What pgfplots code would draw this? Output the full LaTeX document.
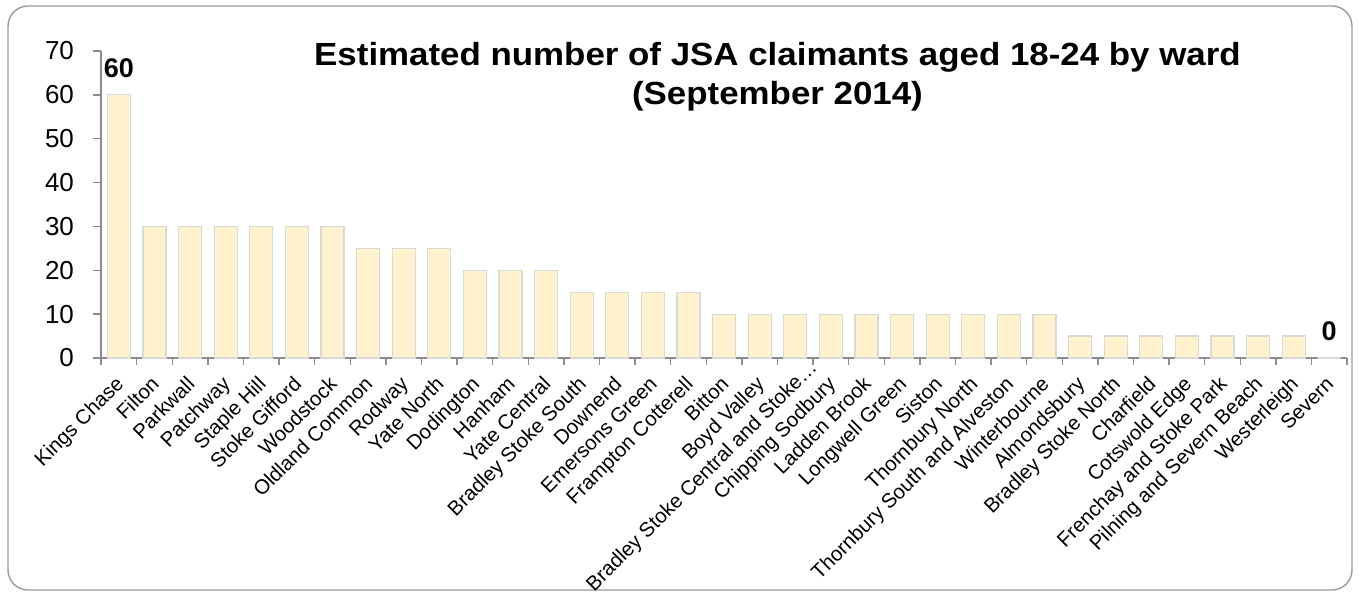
\documentclass[border=0pt]{standalone}
\usepackage{fontspec}
\setmainfont{Liberation Sans}
\newfontfamily\titlefont[FakeStretch=1.09]{Liberation Sans}
\usepackage{pgfplots}
\pgfplotsset{compat=1.18}
\definecolor{barfill}{HTML}{FFF2CC}
\definecolor{baredge}{HTML}{D9D9D9}
\definecolor{axgray}{HTML}{8C8C8C}
\definecolor{frame}{HTML}{9A9A9A}
\begin{document}
\begin{tikzpicture}
\useasboundingbox (0,0) rectangle (679.5pt,297.5pt);
\draw[frame, line width=0.7pt, rounded corners=10pt] (4pt,2.5pt) rectangle (676pt,294.5pt);
\begin{axis}[
  at={(50.5pt,118.5pt)}, anchor=south west,
  scale only axis, width=623pt, height=153.5pt,
  xmin=-0.5, xmax=34.5, ymin=0, ymax=70,
  axis x line*=bottom, axis y line*=left,
  axis line style={axgray, line width=0.7pt},
  tick style={axgray, line width=0.7pt},
  tick align=outside,
  major tick length=4pt,
  minor tick length=3.5pt,
  major x tick style={draw=none},
  ytick={0,10,...,70},
  xtick={0,...,34},
  minor xtick={-0.5,0.5,...,34.5},
  xticklabels={Kings Chase,Filton,Parkwall,Patchway,Staple Hill,Stoke Gifford,Woodstock,Oldland Common,Rodway,Yate North,Dodington,Hanham,Yate Central,Bradley Stoke South,Downend,Emersons Green,Frampton Cotterell,Bitton,Boyd Valley,Bradley Stoke Central and Stoke…\kern-12pt\relax,Chipping Sodbury,Ladden Brook,Longwell Green,Siston,Thornbury North,Thornbury South and Alveston,Winterbourne,Almondsbury,Bradley Stoke North,Charfield,Cotswold Edge,Frenchay and Stoke Park,Pilning and Severn Beach,Westerleigh,Severn},
  xticklabel style={rotate=45, anchor=north east, font=\fontsize{10.2}{12}\selectfont, inner sep=1pt, xshift=-3.7pt, yshift=-0.4pt},
  yticklabel style={font=\fontsize{13}{15}\selectfont, xshift=-6pt},
  /pgf/number format/assume math mode=true,
  clip=false,
]
\addplot[ybar, bar width=11.5pt, fill=barfill, draw=baredge, line width=0.6pt] coordinates {
(0,60) (1,30) (2,30) (3,30) (4,30) (5,30) (6,30)
(7,25) (8,25) (9,25)
(10,20) (11,20) (12,20)
(13,15) (14,15) (15,15) (16,15)
(17,10) (18,10) (19,10) (20,10) (21,10) (22,10) (23,10) (24,10) (25,10) (26,10)
(27,5) (28,5) (29,5) (30,5) (31,5) (32,5) (33,5)
(34,0)};
\addplot[draw=none, mark=none, point meta=explicit symbolic,
  nodes near coords,
  nodes near coords style={font=\bfseries\fontsize{13.5}{15}\selectfont, anchor=south, yshift=5pt}]
  coordinates {(0,60)[60] (34,0)[0]};
\end{axis}
\node[anchor=base, font=\titlefont\bfseries\fontsize{16}{19}\selectfont] at (388.75pt,264.5pt) {Estimated number of JSA claimants aged 18-24 by ward};
\node[anchor=base, font=\titlefont\bfseries\fontsize{16}{19}\selectfont] at (388.75pt,245pt) {(September 2014)};
\end{tikzpicture}
\end{document}
